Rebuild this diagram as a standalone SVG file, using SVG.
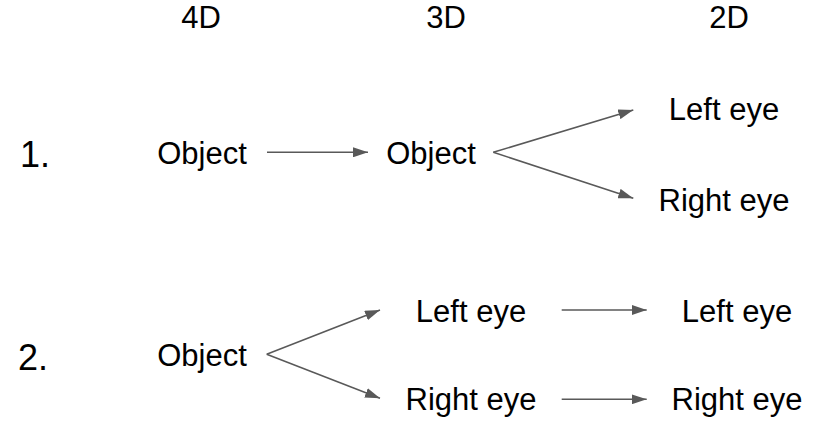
<svg xmlns="http://www.w3.org/2000/svg" width="825" height="432" viewBox="0 0 825 432">
<defs>
<style>
text{font-family:"Liberation Sans",Arial,sans-serif;fill:#000;text-anchor:middle}
.lbl{font-size:31px}
.num{font-size:36px;text-anchor:start}
.conn line{stroke:#595959;stroke-width:1.5;fill:none}
</style>
<marker id="ah" markerUnits="userSpaceOnUse" viewBox="0 0 15 10" markerWidth="15" markerHeight="10" refX="15" refY="5" orient="auto">
<path d="M0,0 L15,5 L0,10 Z" fill="#595959"/>
</marker>
</defs>
<rect width="825" height="432" fill="#fff"/>
<g id="headers">
<text class="lbl" x="201" y="28">4D</text>
<text class="lbl" x="446" y="28">3D</text>
<text class="lbl" x="729" y="28">2D</text>
</g>
<g id="row1-label"><text class="num" x="20" y="167">1.</text></g>
<g id="row2-label"><text class="num" x="18" y="370">2.</text></g>
<g id="n1-object4d"><text class="lbl" x="202" y="164">Object</text></g>
<g id="n1-object3d"><text class="lbl" x="431" y="164">Object</text></g>
<g id="n1-left2d"><text class="lbl" x="724" y="120">Left eye</text></g>
<g id="n1-right2d"><text class="lbl" x="724" y="211">Right eye</text></g>
<g id="n2-object4d"><text class="lbl" x="202" y="366">Object</text></g>
<g id="n2-left3d"><text class="lbl" x="471" y="322">Left eye</text></g>
<g id="n2-right3d"><text class="lbl" x="471" y="410">Right eye</text></g>
<g id="n2-left2d"><text class="lbl" x="737" y="322">Left eye</text></g>
<g id="n2-right2d"><text class="lbl" x="737" y="410">Right eye</text></g>
<g id="connectors" class="conn">
<line x1="267" y1="152.3" x2="368" y2="152.3" marker-end="url(#ah)"/>
<line x1="493.3" y1="152.3" x2="633.3" y2="110" marker-end="url(#ah)"/>
<line x1="493.3" y1="152.3" x2="633.3" y2="198.3" marker-end="url(#ah)"/>
<line x1="266.7" y1="354.3" x2="380" y2="310" marker-end="url(#ah)"/>
<line x1="266.7" y1="354.3" x2="380" y2="398.3" marker-end="url(#ah)"/>
<line x1="561.7" y1="310" x2="646.7" y2="310" marker-end="url(#ah)"/>
<line x1="561.7" y1="399.3" x2="646.7" y2="399.3" marker-end="url(#ah)"/>
</g>
</svg>
